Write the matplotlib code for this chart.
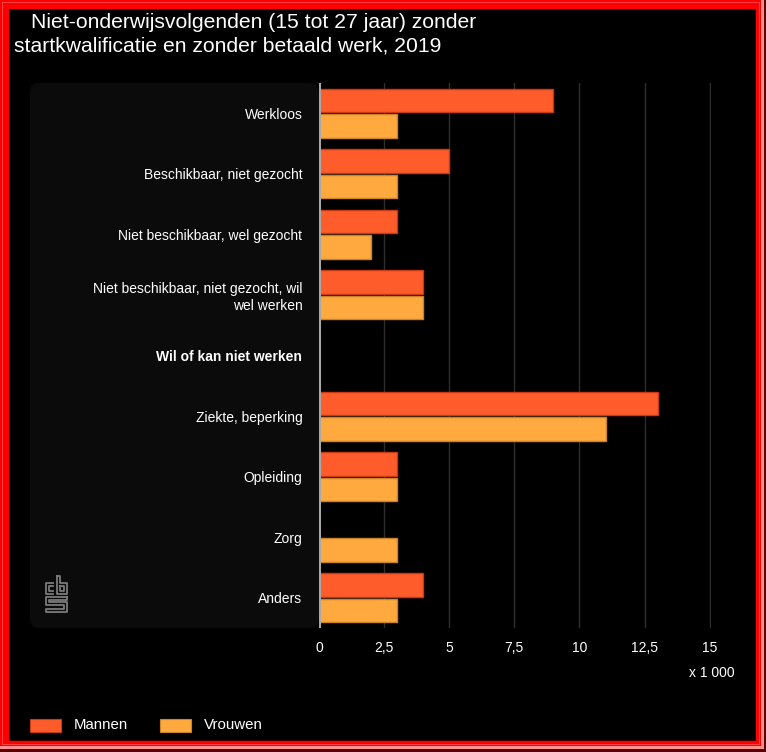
"""Niet-onderwijsvolgenden zonder startkwalificatie en zonder betaald werk, 2019."""

import matplotlib
matplotlib.use('Agg')
import matplotlib.pyplot as plt
from matplotlib.patches import Rectangle, FancyBboxPatch
from matplotlib.lines import Line2D
from matplotlib.ticker import FuncFormatter
import numpy as np

plt.rcParams['font.family'] = ['Liberation Sans', 'DejaVu Sans']

categories = [
    'Werkloos',
    'Beschikbaar, niet gezocht',
    'Niet beschikbaar, wel gezocht',
    'Niet beschikbaar, niet gezocht, wil\nwel werken',
    'Wil of kan niet werken',
    'Ziekte, beperking',
    'Opleiding',
    'Zorg',
    'Anders',
]
bold_categories = ['Wil of kan niet werken']
mannen = [9, 5, 3, 4, np.nan, 13, 3, np.nan, 4]
vrouwen = [3, 3, 2, 4, np.nan, 11, 3, 3, 3]
xticks = [0, 2.5, 5, 7.5, 10, 12.5, 15]

W, H = 766, 752
MANNEN_COLOR = '#ff5c2b'
VROUWEN_COLOR = '#ffa93f'


def fx(px):
    return px / W


def fy(py):
    return 1 - py / H


fig = plt.figure(figsize=(W / 100, H / 100), dpi=100, facecolor='black')

# red bevelled frame
frame = [
    (0, 0, W, H, '#5a0000'),
    (0, 0, W - 2, H - 3, '#ff9090'),
    (0, 0, W - 5, H - 6, '#ff0000'),
    (2, 2, W - 8, H - 9, '#ff4040'),
    (3, 3, W - 10, H - 11, '#ff0000'),
    (9, 9, W - 19, H - 20, '#3a0000'),
    (10, 10, W - 21, H - 22, 'black'),
]
for x0, y0, w, h, c in frame:
    fig.add_artist(Rectangle((fx(x0), fy(y0 + h)), w / W, h / H,
                             transform=fig.transFigure, facecolor=c,
                             edgecolor='none', zorder=0))

# grey panel behind the category labels
fig.add_artist(FancyBboxPatch((fx(30), fy(628)), (319 - 30) / W, (628 - 83) / H,
                              boxstyle='round,pad=0,rounding_size=0.012',
                              transform=fig.transFigure, facecolor='#0b0b0b',
                              edgecolor='none', zorder=1))

ax = fig.add_axes([fx(319), fy(628), (711 - 319) / W, (628 - 83) / H])
ax.set_facecolor('none')
ax.set_zorder(2)

y = np.arange(len(categories))
h = 0.39
ax.barh(y - 0.21, mannen, height=h, color=MANNEN_COLOR, edgecolor='#c83a12',
        linewidth=1, label='Mannen', zorder=3)
ax.barh(y + 0.21, vrouwen, height=h, color=VROUWEN_COLOR, edgecolor='#c98428',
        linewidth=1, label='Vrouwen', zorder=3)

ax.set_ylim(len(categories) - 0.5, -0.5)
ax.set_xlim(0, 15.05)
ax.set_yticks(y)
ax.set_yticklabels(categories, fontsize=10, color='white', ha='right',
                   multialignment='right')
for lbl in ax.get_yticklabels():
    if lbl.get_text() in bold_categories:
        lbl.set_fontweight('bold')
ax.tick_params(axis='y', length=0, pad=12)
ax.set_xticks(xticks)
ax.xaxis.set_major_formatter(FuncFormatter(lambda v, p: f'{v:g}'.replace('.', ',')))
ax.tick_params(axis='x', length=0, pad=9, labelsize=10, labelcolor='white')
ax.grid(axis='x', color='#2e2e2e', linewidth=1, zorder=0)
for s in ax.spines.values():
    s.set_visible(False)
ax.axvline(0, color='#a8a8a8', linewidth=2.2, zorder=4)

fig.text(fx(735), fy(673), 'x 1 000', color='white', fontsize=10,
         ha='right', va='center')

# title
fig.text(fx(31), fy(22), 'Niet-onderwijsvolgenden (15 tot 27 jaar) zonder',
         color='white', fontsize=15.2, ha='left', va='center')
fig.text(fx(14), fy(46), 'startkwalificatie en zonder betaald werk, 2019',
         color='white', fontsize=15.2, ha='left', va='center')

# legend
for px, label, c, ec in [(30, 'Mannen', MANNEN_COLOR, '#c83a12'),
                         (160, 'Vrouwen', VROUWEN_COLOR, '#c98428')]:
    fig.add_artist(Rectangle((fx(px), fy(732)), 31 / W, 13 / H,
                             transform=fig.transFigure, facecolor=c,
                             edgecolor=ec, linewidth=0.8, zorder=2))
    fig.text(fx(px + 44), fy(725), label, color='white', fontsize=10.8,
             ha='left', va='center')

# simplified cbs logo
logo = [
    [(53, 583), (46, 583), (46, 594), (53, 594)],
    [(53, 586), (49, 586), (49, 591), (53, 591)],
    [(57, 576), (57, 594), (67, 594), (67, 583), (60, 583), (60, 576), (57, 576)],
    [(60, 586), (64, 586), (64, 591), (60, 591), (60, 586)],
    [(67, 597), (46, 597), (46, 605), (64, 605), (64, 609), (46, 609),
     (46, 612), (67, 612), (67, 602), (49, 602), (49, 600), (67, 600), (67, 597)],
]
for pts in logo:
    xs = [fx(p[0]) for p in pts]
    ys = [fy(p[1]) for p in pts]
    fig.add_artist(Line2D(xs, ys, transform=fig.transFigure, color='#7a7a7a',
                          linewidth=1.3, zorder=2))

fig.savefig('out.png', dpi=100, facecolor='black')
plt.close()
